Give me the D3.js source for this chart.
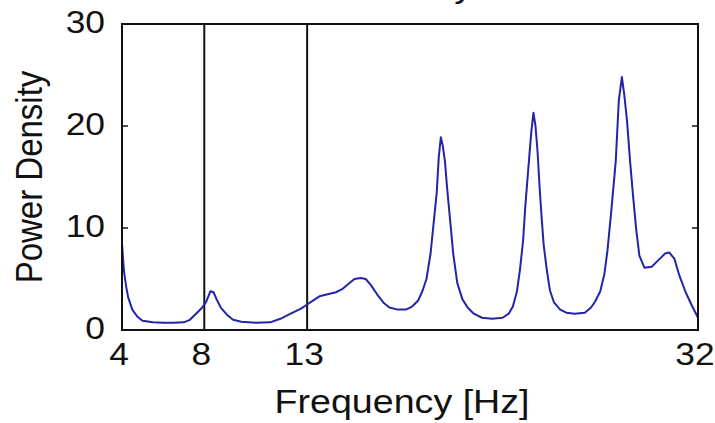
<!DOCTYPE html>
<html lang="en">
<head>
    <meta charset="UTF-8">
    <title>Power Density</title>
    <script src="https://cdn.jsdelivr.net/npm/d3@7"></script>
    <style>
        body{
            margin:0;
            background-color:#ffffff;
        }
        text{
            font-family:"Liberation Sans", Arial, sans-serif;
            fill:#111;
        }
    </style>
</head>
<body>

<script type="text/javascript">

    // frequency (Hz) and power readings taken off the curve
    var freq = [4.0, 4.05, 4.1, 4.2, 4.3, 4.5, 4.75, 5.0, 5.5, 6.0, 6.5, 7.0, 7.3, 7.6, 7.9,
                8.1, 8.3, 8.45, 8.6, 8.8, 9.1, 9.4, 9.8, 10.5, 11.2, 11.7, 12.2, 12.7, 13.0,
                13.3, 13.6, 14.0, 14.4, 14.7, 15.0, 15.3, 15.6, 15.85, 16.1, 16.4, 16.7, 17.0,
                17.4, 17.8, 18.1, 18.4, 18.6, 18.8, 19.0, 19.15, 19.3, 19.4, 19.5, 19.6, 19.7,
                19.8, 19.95, 20.1, 20.3, 20.55, 20.8, 21.1, 21.5, 22.0, 22.5, 22.8, 23.0, 23.2,
                23.35, 23.5, 23.6, 23.75, 23.9, 24.0, 24.1, 24.2, 24.3, 24.4, 24.5, 24.65, 24.8,
                25.0, 25.3, 25.6, 26.0, 26.5, 26.8, 27.0, 27.25, 27.45, 27.6, 27.8, 28.0, 28.15,
                28.3, 28.42, 28.55, 28.7, 28.85, 29.0, 29.15, 29.4, 29.75, 30.1, 30.4, 30.6,
                30.85, 31.1, 31.4, 31.7, 32.0];
    var power = [8.5, 7.0, 5.7, 4.3, 3.2, 2.0, 1.3, 0.9, 0.75, 0.7, 0.7, 0.75, 1.0, 1.6, 2.2,
                 2.8, 3.8, 3.7, 3.0, 2.2, 1.5, 1.0, 0.8, 0.7, 0.75, 1.1, 1.6, 2.1, 2.5,
                 2.9, 3.3, 3.5, 3.7, 4.0, 4.5, 5.0, 5.1, 5.0, 4.4, 3.5, 2.7, 2.2,
                 2.0, 2.0, 2.3, 2.9, 3.8, 5.0, 7.5, 10.5, 13.5, 17.0, 18.9, 18.0, 16.5,
                 14.0, 10.8, 7.5, 4.6, 3.0, 2.2, 1.6, 1.2, 1.1, 1.2, 1.6, 2.3, 3.8,
                 6.0, 8.8, 12.0, 15.8, 19.5, 21.3, 20.0, 17.5, 14.0, 11.0, 8.3, 5.9, 3.9,
                 2.7, 2.0, 1.7, 1.6, 1.7, 2.2, 2.8, 3.8, 5.5, 7.8, 12.0, 16.5, 22.5,
                 24.8, 23.0, 20.5, 16.5, 13.0, 9.8, 7.3, 6.1, 6.2, 6.9, 7.5, 7.6,
                 7.0, 5.3, 3.7, 2.4, 1.2];

    var xTicks = [4, 8, 13, 32];
    var yTicks = [0, 10, 20, 30];
    var bandEdges = [8, 13];

    var W = 715, H = 423;
    var margin = {top: 24, right: 17, bottom: 93, left: 122};
    var stretch = 1.14;   // the picture's text is a bit wide

    var xScale = d3.scaleLinear()
                    .domain([4, 32])
                    .range([margin.left, W - margin.right]);

    var yScale = d3.scaleLinear()
                    .domain([0, 30])
                    .range([H - margin.bottom, margin.top]);

    var svg = d3.select("body")
                .append("svg")
                .attr("width", W)
                .attr("height", H);

    // title, cropped off the top: only the tail of the "y" is in view
    svg.append("text")
       .attr("transform", "translate(473,-3) scale(" + stretch + ",1)")
       .attr("text-anchor", "end")
       .attr("font-size", "33px")
       .text("Power Density");

    // band edges
    svg.selectAll(".band")
       .data(bandEdges)
       .enter()
       .append("line")
       .attr("x1", function(d){ return xScale(d); })
       .attr("x2", function(d){ return xScale(d); })
       .attr("y1", yScale(0))
       .attr("y2", yScale(30))
       .attr("stroke", "#111")
       .attr("stroke-width", 2);

    // inner tick marks on left and right
    var innerTicks = [10, 20];
    svg.selectAll(".tl")
       .data(innerTicks)
       .enter()
       .append("line")
       .attr("x1", xScale(4))
       .attr("x2", xScale(4) + 6)
       .attr("y1", function(d){ return yScale(d); })
       .attr("y2", function(d){ return yScale(d); })
       .attr("stroke", "#111")
       .attr("stroke-width", 1.5);
    svg.selectAll(".tr")
       .data(innerTicks)
       .enter()
       .append("line")
       .attr("x1", xScale(32))
       .attr("x2", xScale(32) - 6)
       .attr("y1", function(d){ return yScale(d); })
       .attr("y2", function(d){ return yScale(d); })
       .attr("stroke", "#111")
       .attr("stroke-width", 1.5);

    // the curve
    var line = d3.line()
                 .x(function(d, i){ return xScale(freq[i]); })
                 .y(function(d){ return yScale(d); });

    svg.append("path")
       .datum(power)
       .attr("d", line)
       .attr("fill", "none")
       .attr("stroke", "#2424a8")
       .attr("stroke-width", 2)
       .attr("stroke-linejoin", "round");

    // box
    svg.append("rect")
       .attr("x", xScale(4))
       .attr("y", yScale(30))
       .attr("width", xScale(32) - xScale(4))
       .attr("height", yScale(0) - yScale(30))
       .attr("fill", "none")
       .attr("stroke", "#111")
       .attr("stroke-width", 2);

    // tick labels
    svg.selectAll(".ylab")
       .data(yTicks)
       .enter()
       .append("text")
       .attr("transform", function(d){
            return "translate(105," + (yScale(d) + 8.5) + ") scale(" + stretch + ",1)";
       })
       .attr("text-anchor", "end")
       .attr("font-size", "31px")
       .text(function(d){ return d; });

    svg.selectAll(".xlab")
       .data(xTicks)
       .enter()
       .append("text")
       .attr("transform", function(d){
            return "translate(" + (xScale(d) - 3) + ",365) scale(" + stretch + ",1)";
       })
       .attr("text-anchor", "middle")
       .attr("font-size", "31px")
       .text(function(d){ return d; });

    // axis titles
    svg.append("text")
       .attr("transform", "translate(402,413) scale(" + stretch + ",1)")
       .attr("text-anchor", "middle")
       .attr("font-size", "33px")
       .text("Frequency [Hz]");

    svg.append("text")
       .attr("transform", "translate(42," + ((yScale(0) + yScale(30)) / 2) + ") scale(" + stretch + ",1) rotate(-90)")
       .attr("text-anchor", "middle")
       .attr("font-size", "33px")
       .text("Power Density");

</script>

</body>
</html>
